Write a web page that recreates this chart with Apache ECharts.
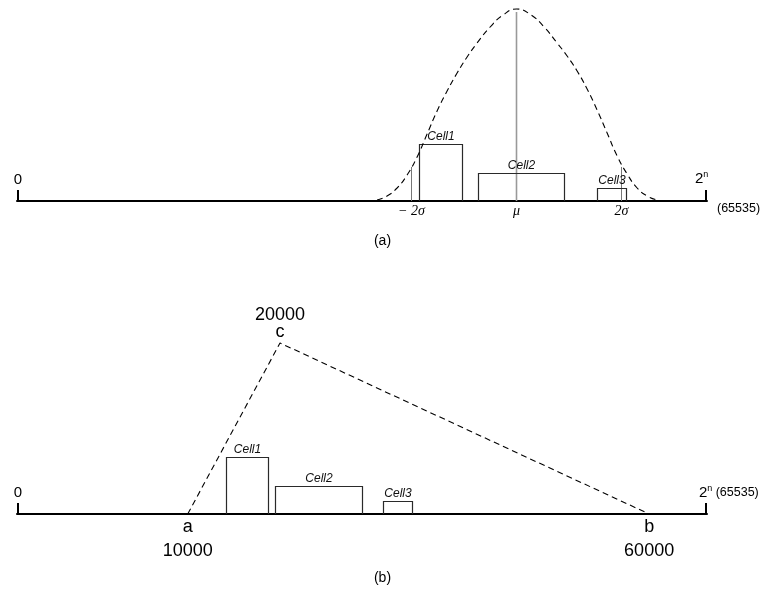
<!DOCTYPE html>
<html>
<head>
<meta charset="utf-8">
<script src="https://cdn.jsdelivr.net/npm/echarts@6/dist/echarts.min.js"></script>
<style>
  html, body { margin: 0; padding: 0; background: #ffffff; }
  #chart { width: 765px; height: 596px; }
</style>
</head>
<body>
<div id="chart"></div>
<script>
// ---- Key space ------------------------------------------------------------
const SPACE_MAX = 65535;
const TICK_H = 11;

// ---- (a) normally distributed keys ---------------------------------------
const MU = 47500;
const SIGMA = 5000;
const cellNames = ['Cell1', 'Cell2', 'Cell3'];
const cellCounts = [57, 28, 13];
const normalCellStart = [38200, 43800, 55100];
const normalCellEnd = [42300, 52000, 57800];

// density outline of the key distribution
const bellX = [34200, 35150, 36100, 37050, 38000, 38950, 39900, 40850, 41800, 42750,
               43700, 44935, 46170, 47450, 48830, 50065, 51300, 52250, 53200, 54150,
               55100, 56050, 57000, 57950, 58900, 59850, 60800];
const bellY = [1, 5, 13, 26, 44, 67, 90, 110, 128, 144,
               158, 174, 186, 192, 186, 174, 158, 145, 130, 112,
               91, 68, 45, 27, 13, 5, 1];

// markers at mu and +/- 2 sigma
const refLineX = [MU - 2 * SIGMA, MU, MU + 2 * SIGMA];
const refLineTop = [34, 189, 34];
const refLineLabel = ['\u2212 2\u03c3', '\u03bc', '2\u03c3'];

// ---- (b) triangular distribution of keys ---------------------------------
const triNames = ['a', 'c', 'b'];
const triX = [10000, 20000, 60000];
const triY = [0, 171, 0];
const triCellStart = [14100, 19500, 31200];
const triCellEnd = [18700, 28900, 34300];
const B_AXIS_MIN = -8500;
const B_AXIS_MAX = 66270;

const FONT = '"Liberation Sans", Arial, sans-serif';
const SERIF = '"Liberation Serif", "Times New Roman", serif';

function cellSeries(axisIndex, starts, ends) {
  return {
    type: 'custom',
    xAxisIndex: axisIndex,
    yAxisIndex: axisIndex,
    z: 2,
    data: starts.map((s, i) => [s, ends[i], cellCounts[i]]),
    renderItem: function (params, api) {
      const p0 = api.coord([api.value(0), 0]);
      const p1 = api.coord([api.value(1), api.value(2)]);
      const x0 = Math.round(p0[0]) + 0.5, x1 = Math.round(p1[0]) + 0.5;
      const yTop = Math.round(p1[1]) + 0.5, yBot = p0[1];
      return {
        type: 'group',
        children: [
          { type: 'polyline',
            shape: { points: [[x0, yBot], [x0, yTop], [x1, yTop], [x1, yBot]] },
            style: { stroke: '#2a2a2a', lineWidth: 1.2, fill: null } },
          { type: 'text',
            style: { text: cellNames[params.dataIndex], x: (x0 + x1) / 2, y: yTop - 2,
                     textAlign: 'center', textVerticalAlign: 'bottom',
                     font: 'italic 12px ' + FONT, fill: '#111' } }
        ]
      };
    }
  };
}

function endTickSeries(axisIndex, xmin, xmax, rightLabel) {
  return {
    type: 'custom',
    xAxisIndex: axisIndex,
    yAxisIndex: axisIndex,
    z: 3,
    data: [[xmin, TICK_H], [xmax, TICK_H]],
    renderItem: function (params, api) {
      const b = api.coord([api.value(0), 0]);
      const t = api.coord([api.value(0), api.value(1)]);
      const x = Math.round(b[0]) + (params.dataIndex === 0 ? 1 : -1);
      const children = [
        { type: 'line', shape: { x1: x, y1: b[1], x2: x, y2: t[1] },
          style: { stroke: '#000', lineWidth: 2 } }
      ];
      if (params.dataIndex === 0) {
        children.push({ type: 'text',
          style: { text: '0', x: x, y: t[1] - 3, textAlign: 'center', textVerticalAlign: 'bottom',
                   font: '15px ' + FONT, fill: '#000' } });
      } else {
        children.push(rightLabel(x, b[1], t[1]));
      }
      return { type: 'group', children: children };
    }
  };
}

const chart = echarts.init(document.getElementById('chart'), null, { renderer: 'canvas' });

const axisLine = { show: true, onZero: false, lineStyle: { color: '#000', width: 2 } };
const xAxisBase = {
  type: 'value', axisLine: axisLine, axisTick: { show: false },
  axisLabel: { show: false }, splitLine: { show: false }
};

chart.setOption({
  animation: false,
  backgroundColor: '#ffffff',
  grid: [
    { left: 17, right: 58, top: 1, height: 200 },
    { left: 17, right: 58, top: 314, height: 200 }
  ],
  xAxis: [
    Object.assign({ gridIndex: 0, min: 0, max: SPACE_MAX }, xAxisBase),
    Object.assign({ gridIndex: 1, min: B_AXIS_MIN, max: B_AXIS_MAX }, xAxisBase)
  ],
  yAxis: [
    { type: 'value', gridIndex: 0, min: 0, max: 200, show: false },
    { type: 'value', gridIndex: 1, min: 0, max: 200, show: false }
  ],
  graphic: [
    { type: 'text', x: 382.5, y: 241,
      style: { text: '(a)', textAlign: 'center', textVerticalAlign: 'middle', font: '14px ' + FONT, fill: '#000' } },
    { type: 'text', x: 382.5, y: 578,
      style: { text: '(b)', textAlign: 'center', textVerticalAlign: 'middle', font: '14px ' + FONT, fill: '#000' } }
  ],
  series: [
    // ---------- (a) ----------
    cellSeries(0, normalCellStart, normalCellEnd),
    {
      type: 'custom', xAxisIndex: 0, yAxisIndex: 0, z: 1,
      data: refLineX.map((x, i) => [x, refLineTop[i]]),
      renderItem: function (params, api) {
        const b = api.coord([api.value(0), 0]);
        const t = api.coord([api.value(0), api.value(1)]);
        const isMu = params.dataIndex === 1;
        const x = Math.round(b[0]) - 0.5;
        return {
          type: 'group',
          children: [
            { type: 'line', shape: { x1: x, y1: b[1], x2: x, y2: t[1] },
              style: { stroke: isMu ? '#999' : '#777', lineWidth: isMu ? 1.6 : 1 } },
            { type: 'text',
              style: { text: refLineLabel[params.dataIndex], x: x, y: b[1] + 3,
                       textAlign: 'center', textVerticalAlign: 'top',
                       font: 'italic 14px ' + SERIF, fill: '#000' } }
          ]
        };
      }
    },
    {
      type: 'line', xAxisIndex: 0, yAxisIndex: 0, z: 4,
      data: bellX.map((x, i) => [x, bellY[i]]),
      smooth: 0.5, smoothMonotone: 'none', showSymbol: false, symbol: 'none',
      lineStyle: { color: '#000', width: 1.1, type: [6, 4] }
    },
    endTickSeries(0, 0, SPACE_MAX, function (x, yb, yt) {
      return {
        type: 'group',
        children: [
          { type: 'text',
            style: { text: '{b|2}{s|n}', x: x - 11, y: yt - 3, textAlign: 'left', textVerticalAlign: 'bottom',
                     rich: { b: { font: '15px ' + FONT, fill: '#000', lineHeight: 17 },
                             s: { font: '9px ' + FONT, fill: '#000', verticalAlign: 'top', lineHeight: 17 } } } },
          { type: 'text',
            style: { text: '(65535)', x: x + 11, y: yb + 8, textAlign: 'left', textVerticalAlign: 'middle',
                     font: '12.5px ' + FONT, fill: '#000' } }
        ]
      };
    }),

    // ---------- (b) ----------
    cellSeries(1, triCellStart, triCellEnd),
    {
      type: 'line', xAxisIndex: 1, yAxisIndex: 1, z: 4,
      data: triX.map((x, i) => {
        const apex = triY[i] > 0;
        return {
          value: [x, triY[i]],
          label: {
            show: true,
            position: apex ? 'top' : 'bottom',
            distance: apex ? 2 : 4,
            formatter: apex ? '{v|' + x + '}\n{n|' + triNames[i] + '}'
                            : '{n|' + triNames[i] + '}\n{w|' + x + '}'
          }
        };
      }),
      symbol: 'circle', symbolSize: 0, showSymbol: true,
      itemStyle: { color: '#000' },
      lineStyle: { color: '#000', width: 1.1, type: [6, 4] },
      label: {
        color: '#000',
        rich: {
          v: { fontFamily: FONT, fontSize: 18, lineHeight: 16, color: '#000' },
          w: { fontFamily: FONT, fontSize: 18, lineHeight: 31, color: '#000' },
          n: { fontFamily: FONT, fontSize: 18, lineHeight: 18, color: '#000' }
        }
      }
    },
    endTickSeries(1, B_AXIS_MIN, B_AXIS_MAX, function (x, yb, yt) {
      return {
        type: 'text',
        style: { text: '{b|2}{s|n} {p|(65535)}', x: x - 7, y: yt - 2, textAlign: 'left', textVerticalAlign: 'bottom',
                 rich: { b: { font: '15px ' + FONT, fill: '#000', lineHeight: 17 },
                         s: { font: '9px ' + FONT, fill: '#000', verticalAlign: 'top', lineHeight: 17 },
                         p: { font: '12.5px ' + FONT, fill: '#000', lineHeight: 17 } } }
      };
    })
  ]
});
</script>
</body>
</html>
